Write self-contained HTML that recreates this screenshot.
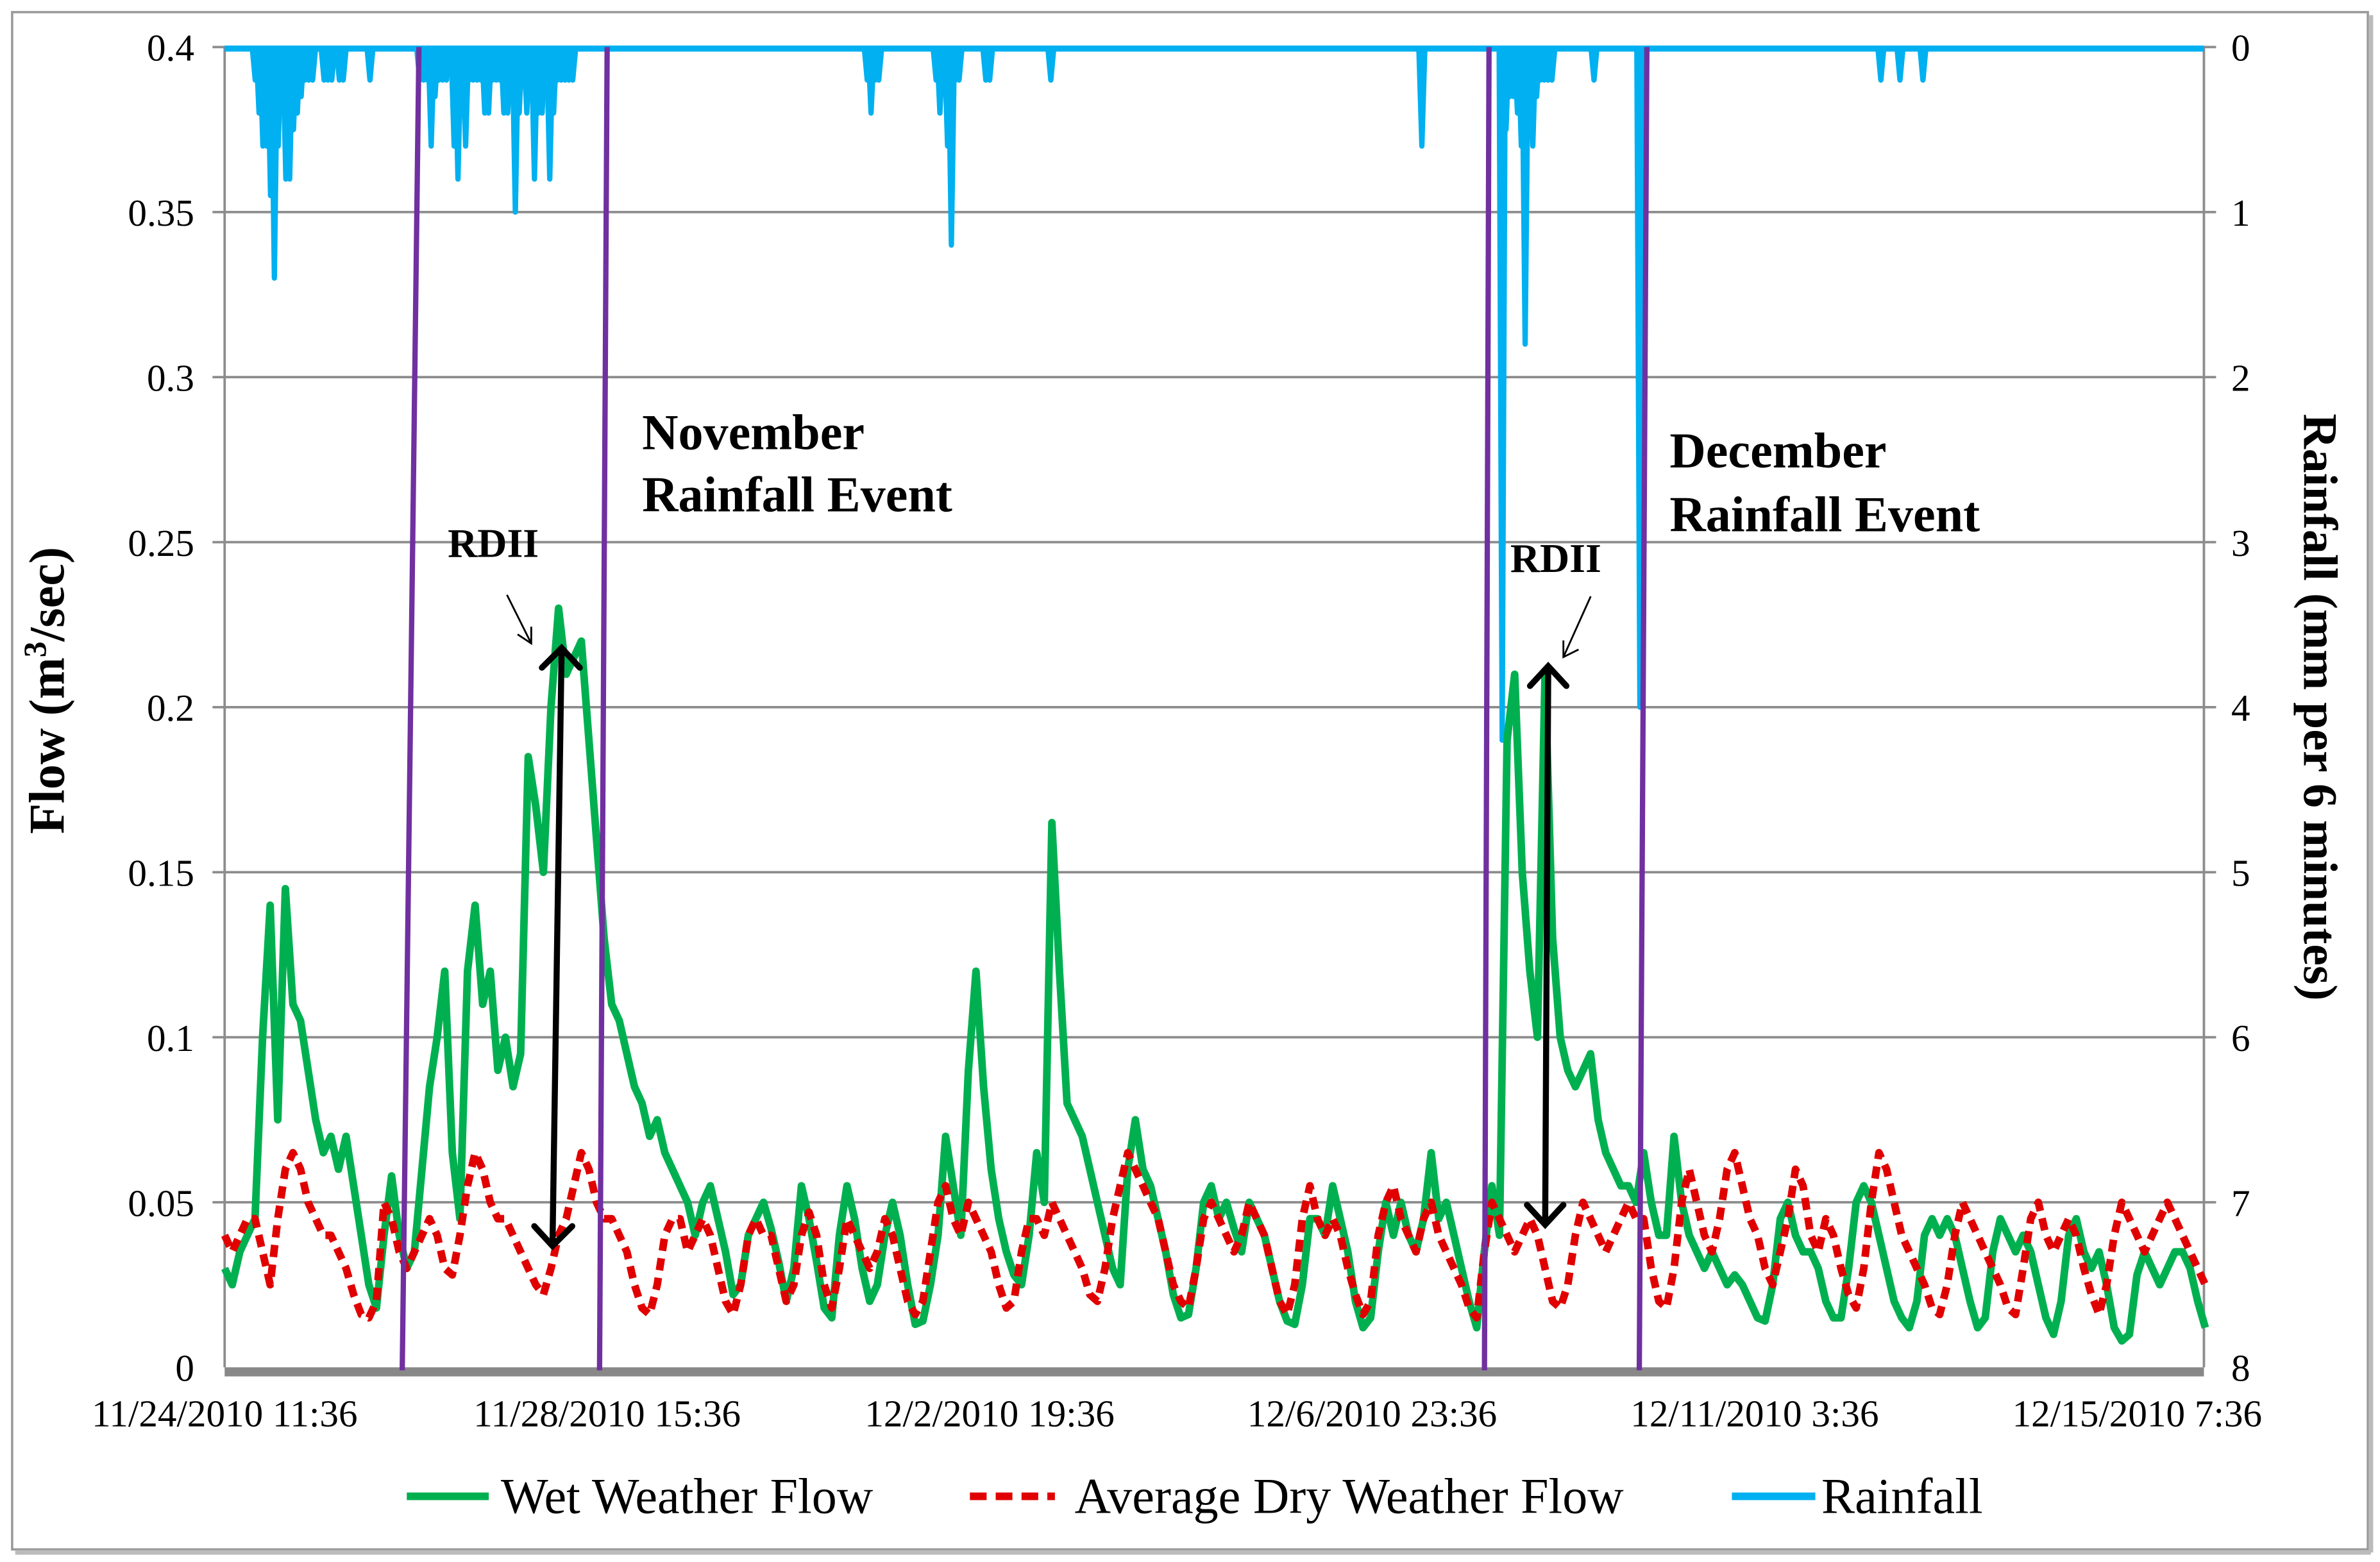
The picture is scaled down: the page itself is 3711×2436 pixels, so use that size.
<!DOCTYPE html>
<html><head><meta charset="utf-8"><style>
html,body{margin:0;padding:0;background:#fff;}
svg{display:block;font-family:"Liberation Serif",serif;}
</style></head><body>
<svg id="chart" width="3711" height="2436" viewBox="0 0 1568 1029.3" preserveAspectRatio="none" xmlns="http://www.w3.org/2000/svg">
<rect x="8" y="8" width="1552" height="1013" fill="#fff" stroke="#999" stroke-width="1.5"/>
<line x1="10" y1="1023" x2="1562" y2="1023" stroke="#bbb" stroke-width="3"/>
<line x1="1562" y1="10" x2="1562" y2="1023" stroke="#bbb" stroke-width="3"/>
<g id="grid"></g>
<g id="rain"></g>
<g id="series"></g>
<g id="axes"></g>
<g id="annot">
  <line x1="276" y1="31" x2="265" y2="903" stroke="#7030a0" stroke-width="3.5"/>
  <line x1="400" y1="31" x2="395" y2="903" stroke="#7030a0" stroke-width="3.5"/>
  <line x1="981" y1="31" x2="978" y2="903" stroke="#7030a0" stroke-width="3.5"/>
  <line x1="1085" y1="31" x2="1080" y2="903" stroke="#7030a0" stroke-width="3.5"/>
  <text x="423" y="296" font-size="33" font-weight="bold">November</text>
  <text x="423" y="337" font-size="33" font-weight="bold">Rainfall Event</text>
  <text x="1100" y="308" font-size="33" font-weight="bold">December</text>
  <text x="1100" y="350" font-size="33" font-weight="bold">Rainfall Event</text>
  <text x="295" y="367" font-size="27" font-weight="bold">RDII</text>
  <text x="995" y="377" font-size="27" font-weight="bold">RDII</text>
  <g stroke="#000" stroke-width="1.2" fill="none">
    <line x1="334" y1="392" x2="350" y2="424"/><polyline points="341,418 350,424 350,413"/>
  </g>
  <g stroke="#000" stroke-width="1.2" fill="none">
    <line x1="1048" y1="393" x2="1030" y2="433"/><polyline points="1030,422 1030,433 1040,428"/>
  </g>
  <g stroke="#000" stroke-width="4" fill="none" stroke-linecap="round">
    <line x1="370" y1="428" x2="364" y2="820"/><polyline points="357,440 370,427 382,440"/><polyline points="352,808 364,821 377,808"/>
  </g>
  <g stroke="#000" stroke-width="4" fill="none" stroke-linecap="round">
    <line x1="1020" y1="440" x2="1018" y2="806"/><polyline points="1008,452 1020,439 1032,452"/><polyline points="1006,794 1018,807 1030,794"/>
  </g>
</g>
<text transform="translate(42,455) rotate(-90)" text-anchor="middle" font-size="33" font-weight="bold">Flow (m<tspan font-size="21" dy="-12">3</tspan><tspan dy="12">/sec)</tspan></text>
<text transform="translate(1518,466) rotate(90)" text-anchor="middle" font-size="32" font-weight="bold">Rainfall (mm per 6 minutes)</text>
<g font-size="33">
  <g><line x1="268" y1="986" x2="322" y2="986" stroke="#00b050" stroke-width="5"/><text x="330" y="997">Wet Weather Flow</text></g>
  <g><line x1="639" y1="986" x2="695" y2="986" stroke="#e00000" stroke-width="5" stroke-dasharray="11,6"/><text x="708" y="997">Average Dry Weather Flow</text></g>
  <g><line x1="1141" y1="986" x2="1196" y2="986" stroke="#00b0f0" stroke-width="5"/><text x="1200" y="997">Rainfall</text></g>
</g>
</svg>
<script>
const flowTicks = [0, 0.05, 0.1, 0.15, 0.2, 0.25, 0.3, 0.35, 0.4];
const flowTickLabels = ["0","0.05","0.1","0.15","0.2","0.25","0.3","0.35","0.4"];
const rainTicks = [0,1,2,3,4,5,6,7,8];
const dateLabels = ["11/24/2010 11:36","11/28/2010 15:36","12/2/2010 19:36","12/6/2010 23:36","12/11/2010 3:36","12/15/2010 7:36"];
const dateLabelHours = [0, 100, 200, 300, 400, 500];
const stepHours = 1.984;
const wetFlow = [.03,.025,.035,.04,.045,.1,.14,.075,.145,.11,.105,.09,.075,.065,.07,.06,.07,.055,.04,.025,.018,.04,.058,.04,.03,.035,.06,.085,.1,.12,.065,.045,.12,.14,.11,.12,.09,.1,.085,.095,.185,.17,.15,.2,.23,.21,.215,.22,.19,.16,.13,.11,.105,.095,.085,.08,.07,.075,.065,.06,.055,.05,.04,.05,.055,.045,.035,.022,.025,.04,.045,.05,.042,.032,.02,.03,.055,.045,.032,.018,.015,.04,.055,.045,.03,.02,.025,.04,.05,.04,.025,.013,.014,.025,.04,.07,.055,.04,.09,.12,.085,.06,.045,.035,.028,.025,.04,.065,.05,.165,.12,.08,.075,.07,.06,.05,.04,.03,.025,.06,.075,.06,.055,.045,.035,.022,.015,.016,.03,.05,.055,.045,.05,.042,.035,.05,.045,.04,.03,.02,.014,.013,.025,.045,.045,.04,.055,.045,.035,.02,.012,.015,.035,.05,.04,.05,.04,.035,.045,.065,.045,.05,.04,.03,.02,.012,.035,.055,.04,.19,.21,.15,.12,.1,.21,.13,.1,.09,.085,.09,.095,.075,.065,.06,.055,.055,.05,.065,.05,.04,.04,.07,.05,.04,.035,.03,.035,.03,.025,.028,.025,.02,.015,.014,.025,.045,.05,.04,.035,.035,.03,.02,.015,.015,.03,.05,.055,.05,.04,.03,.02,.015,.012,.02,.04,.045,.04,.045,.04,.03,.02,.012,.015,.035,.045,.04,.035,.04,.035,.025,.015,.01,.02,.04,.045,.035,.03,.035,.025,.012,.008,.01,.028,.035,.03,.025,.03,.035,.035,.03,.02,.012];
const dryFlow = [.04,.035,.04,.045,.045,.035,.025,.045,.06,.065,.06,.05,.045,.04,.04,.035,.03,.022,.016,.015,.02,.05,.045,.035,.03,.035,.04,.045,.04,.03,.028,.04,.055,.065,.06,.05,.045,.045,.04,.035,.03,.025,.022,.03,.04,.045,.055,.065,.06,.05,.045,.045,.04,.035,.025,.018,.016,.025,.04,.045,.045,.035,.04,.045,.04,.03,.02,.016,.025,.04,.045,.04,.04,.03,.02,.025,.04,.047,.04,.025,.018,.03,.045,.04,.035,.03,.035,.045,.04,.03,.02,.016,.02,.035,.05,.055,.045,.04,.05,.045,.04,.035,.025,.018,.02,.035,.045,.045,.04,.05,.045,.04,.035,.03,.022,.02,.03,.045,.055,.065,.06,.055,.05,.045,.035,.025,.02,.018,.03,.045,.05,.045,.04,.035,.04,.05,.045,.04,.03,.02,.016,.025,.045,.055,.045,.04,.045,.04,.03,.022,.016,.02,.04,.05,.055,.045,.04,.035,.045,.05,.04,.035,.03,.025,.018,.015,.035,.05,.045,.04,.035,.04,.045,.04,.03,.02,.018,.025,.04,.05,.045,.04,.035,.04,.045,.05,.045,.045,.03,.02,.018,.03,.05,.06,.05,.04,.035,.045,.06,.065,.055,.045,.04,.03,.025,.035,.045,.06,.055,.04,.035,.045,.04,.03,.022,.018,.03,.05,.065,.06,.05,.04,.035,.03,.025,.018,.016,.025,.04,.05,.045,.04,.035,.03,.025,.018,.016,.03,.045,.05,.04,.035,.04,.045,.04,.03,.022,.016,.025,.04,.05,.045,.04,.035,.04,.045,.05,.045,.04,.035,.03,.025];
// rainfall events: hour offset from start, depth in mm per 6 minutes
const rainHours = [8,9,10,11,12,13,14,15,16,17,18,19,20,21,22,23,26,27,28,30,31,38,51,52,53,54,55,56,57,58,60,61,62,63,64,65,66,67,68,69,70,71,72,73,74,75,76,77,78,79,80,81,82,83,84,85,86,87,88,89,90,91,168,169,170,171,186,187,188,189,190,191,192,199,200,216,313,334,335,336,337,338,339,340,341,342,343,344,345,346,347,358,370,433,438,444];
const rainDepth = [0.2,0.4,0.6,0.6,0.9,1.4,0.6,0.3,0.8,0.8,0.5,0.4,0.3,0.2,0.2,0.2,0.2,0.2,0.2,0.2,0.2,0.2,0.2,0.2,0.2,0.6,0.3,0.2,0.2,0.2,0.6,0.8,0.3,0.6,0.2,0.2,0.2,0.2,0.4,0.4,0.2,0.2,0.2,0.4,0.4,0.2,1.0,0.4,0.2,0.4,0.2,0.8,0.4,0.4,0.2,0.8,0.4,0.2,0.2,0.2,0.2,0.2,0.2,0.4,0.2,0.2,0.2,0.4,0.2,0.6,1.2,0.2,0.2,0.2,0.2,0.2,0.6,4.2,0.5,0.3,0.3,0.4,0.6,1.8,0.4,0.6,0.3,0.2,0.2,0.2,0.2,0.2,4.0,0.2,0.2,0.2];

const NS = "http://www.w3.org/2000/svg";
const L = 148, R = 1452, T = 31, B = 901;
const pxPerHour = 2.52;
const xScale = h => L + h * pxPerHour;
const yFlow = v => B - (v / 0.4) * (B - T);
const yRain = v => T + (v / 8) * (B - T);
function mk(tag, attrs, parent) {
  const e = document.createElementNS(NS, tag);
  for (const k in attrs) e.setAttribute(k, attrs[k]);
  parent.appendChild(e);
  return e;
}
const grid = document.getElementById('grid');
const axes = document.getElementById('axes');
flowTicks.forEach((v, i) => {
  const y = yFlow(v);
  if (v > 0) {
    const g = mk('line', {x1: L - 8, x2: R + 8, y1: y, y2: y, stroke: '#8c8c8c', 'stroke-width': 1.6}, grid);
    
    
  }
  const t = mk('text', {x: 128, y: y + 9, 'text-anchor': 'end', 'font-size': 25}, axes);
  t.textContent = flowTickLabels[i];
  
  
});
rainTicks.forEach(v => {
  const t = mk('text', {x: 1470, y: yRain(v) + 9, 'text-anchor': 'start', 'font-size': 25}, axes);
  t.textContent = String(v);
  
  
});
let ax = mk('line', {x1: L, x2: L, y1: T, y2: B, stroke: '#8c8c8c', 'stroke-width': 1.6}, grid);


ax = mk('line', {x1: R, x2: R, y1: T, y2: B, stroke: '#8c8c8c', 'stroke-width': 1.6}, grid);


ax = mk('rect', {x: L, y: B, width: R - L, height: 6, fill: '#888'}, axes);


dateLabels.forEach((s, i) => {
  let cx = xScale(dateLabelHours[i]);
  cx = Math.min(cx, 1411);
  const t = mk('text', {x: cx, y: 940, 'text-anchor': 'middle', 'font-size': 25}, axes);
  t.textContent = s;
  
  
});
// rainfall
const rain = document.getElementById('rain');
let base = mk('line', {x1: L, x2: R, y1: yRain(0) + 1, y2: yRain(0) + 1, stroke: '#00b0f0', 'stroke-width': 4}, rain);


rainHours.forEach((h, i) => {
  const x = xScale(h);
  const p = mk('path', {d: `M${x - 2},${yRain(0)} L${x},${yRain(rainDepth[i])} L${x + 2},${yRain(0)}`, stroke: '#00b0f0', 'stroke-width': 3.5, fill: '#00b0f0', 'stroke-linejoin': 'round'}, rain);
  
  
});
// flows
const series = document.getElementById('series');
function pts(arr) { return arr.map((v, i) => xScale(i * stepHours).toFixed(1) + ',' + yFlow(v).toFixed(1)).join(' '); }
const wet = mk('polyline', {points: pts(wetFlow), fill: 'none', stroke: '#00b050', 'stroke-width': 5, 'stroke-linejoin': 'round'}, series);


const dry = mk('polyline', {points: pts(dryFlow), fill: 'none', stroke: '#e00000', 'stroke-width': 5, 'stroke-dasharray': '8,5', 'stroke-linejoin': 'round'}, series);


</script>
</body></html>
